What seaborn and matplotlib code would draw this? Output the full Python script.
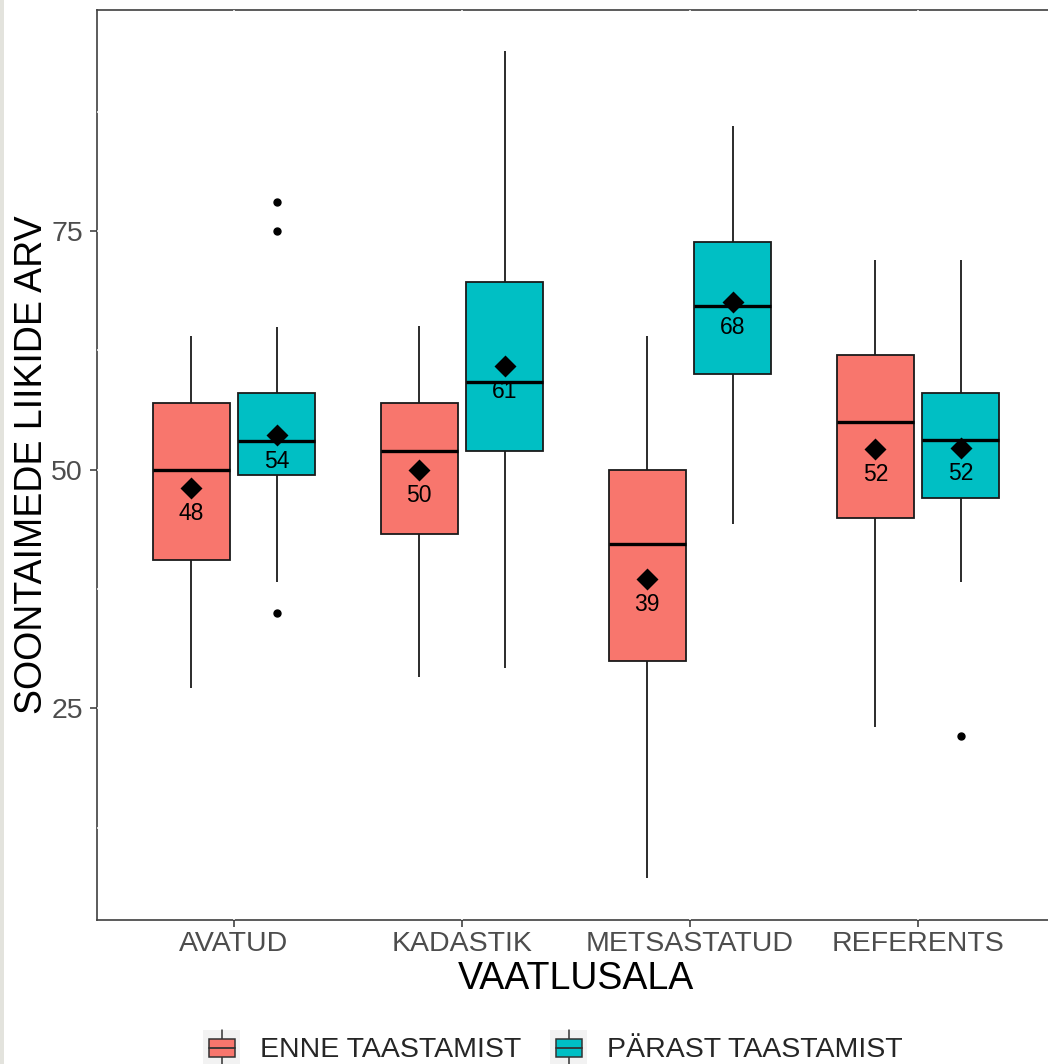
import pandas as pd
import matplotlib
matplotlib.use("Agg")
import matplotlib.pyplot as plt
from matplotlib.patches import Rectangle, Patch
from matplotlib.lines import Line2D
from matplotlib.legend_handler import HandlerBase
import seaborn as sns

# values
areas = ["AVATUD", "KADASTIK", "METSASTATUD", "REFERENTS"]
groups = ["ENNE TAASTAMIST", "PÄRAST TAASTAMIST"]
colors = ["#F8766D", "#00BFC4"]

enne_lo = [27.1, 28.3, 7.2, 23.1]
enne_q1 = [40.6, 43.3, 30.0, 45.0]
enne_med = [50.0, 52.0, 42.2, 55.0]
enne_q3 = [57.0, 57.0, 50.0, 62.0]
enne_hi = [64.0, 65.1, 64.0, 72.0]
enne_out = [[], [], [], []]
enne_mean = [48.1, 50.0, 38.6, 52.2]

parast_lo = [38.2, 29.2, 44.3, 38.2]
parast_q1 = [49.5, 52.0, 60.0, 47.0]
parast_med = [53.0, 59.2, 67.2, 53.1]
parast_q3 = [58.0, 69.7, 73.9, 58.0]
parast_hi = [65.0, 93.9, 86.0, 72.0]
parast_out = [[35.0, 75.0, 78.0], [], [], [22.1]]
parast_mean = [53.6, 60.9, 67.6, 52.3]


# rebuild a sample whose boxplot stats match the numbers
def rebuild(lo, q1, med, q3, hi, out, k=50):
    low = [v for v in out if v < lo]
    high = [v for v in out if v > hi]
    return low + [lo] + [q1] * k + [med] * k + [q3] * k + [hi] + high


rows = []
for i, area in enumerate(areas):
    for v in rebuild(enne_lo[i], enne_q1[i], enne_med[i], enne_q3[i], enne_hi[i], enne_out[i]):
        rows.append((area, groups[0], v))
    for v in rebuild(parast_lo[i], parast_q1[i], parast_med[i], parast_q3[i], parast_hi[i], parast_out[i]):
        rows.append((area, groups[1], v))
df = pd.DataFrame(rows, columns=["VAATLUSALA", "grupp", "arv"])

means = pd.DataFrame({
    "VAATLUSALA": areas * 2,
    "grupp": [groups[0]] * len(areas) + [groups[1]] * len(areas),
    "arv": enne_mean + parast_mean,
})


class BoxKey(HandlerBase):
    # ggplot-like legend key: grey square, whisker, box and median
    def create_artists(self, legend, orig_handle, xdescent, ydescent,
                       width, height, fontsize, trans):
        x0, y0 = -xdescent, -ydescent
        fc = orig_handle.get_facecolor()
        bg = Rectangle((x0, y0), width, height, facecolor="#F2F2F2",
                       edgecolor="none", transform=trans)
        stem = Line2D([x0 + width / 2] * 2, [y0, y0 + height],
                      color="#333333", lw=1.1, transform=trans)
        box = Rectangle((x0 + 0.15 * width, y0 + 0.25 * height), 0.7 * width, 0.5 * height,
                        facecolor=fc, edgecolor="#333333", lw=1.1, transform=trans)
        mid = Line2D([x0 + 0.15 * width, x0 + 0.85 * width], [y0 + height / 2] * 2,
                     color="#333333", lw=1.3, transform=trans)
        return [bg, stem, box, mid]


sns.set_theme(style="white")
plt.rcParams["font.family"] = ["Liberation Sans", "DejaVu Sans"]

fig = plt.figure(figsize=(10.48, 10.64), dpi=100)
ax = fig.add_axes([97 / 1048, 144 / 1064, 958 / 1048, 910 / 1064])

sns.boxplot(data=df, x="VAATLUSALA", y="arv", hue="grupp", order=areas, hue_order=groups,
            palette=colors, saturation=1, width=0.75, gap=0.1, linewidth=1.3,
            linecolor="#1A1A1A", showcaps=False, fliersize=5,
            flierprops=dict(marker="o", markerfacecolor="black", markeredgecolor="black"),
            medianprops=dict(color="black", linewidth=2.4),
            legend=False, ax=ax)

n0 = len(ax.lines)
sns.pointplot(data=means, x="VAATLUSALA", y="arv", hue="grupp", order=areas, hue_order=groups,
              palette=["black", "black"], dodge=0.375, linestyle="none", markers="D",
              markersize=9.5, errorbar=None, legend=False, ax=ax)
for line in ax.lines[n0:]:
    line.set_zorder(5)
    for x, y in line.get_xydata():
        ax.annotate(f"{y:.0f}", (x, y), xytext=(0, -18.5), textcoords="offset points",
                    ha="center", va="center", fontsize=16.5, color="black", zorder=6)

ax.set_xlim(-0.6, 3.6)
ax.set_ylim(2.85, 98.15)
ax.set_yticks([25, 50, 75])
ax.set_yticks([12.5, 37.5, 62.5, 87.5], minor=True)

# white grid drawn over the panel border, like the reference
ax.set_axisbelow(True)
ax.grid(True, which="both", color="white", linewidth=1.1)
for side in ["left", "top", "bottom", "right"]:
    ax.spines[side].set_color("#404040")
    ax.spines[side].set_linewidth(1.2)
    ax.spines[side].set_zorder(0.2)

ax.tick_params(axis="both", which="major", labelsize=20.5, labelcolor="#4D4D4D",
               color="#333333", length=5, width=1.1, left=True, bottom=True)
ax.tick_params(axis="x", pad=3)
ax.tick_params(axis="y", pad=5)
ax.tick_params(which="minor", length=0)

ax.set_xlabel("VAATLUSALA", fontsize=27, labelpad=3, color="black")
ax.set_ylabel("SOONTAIMEDE LIIKIDE ARV", fontsize=27, labelpad=1, color="black")

handles = [Patch(facecolor=c) for c in colors]
fig.legend(handles, groups, loc="center", bbox_to_anchor=(553 / 1048, 1 - 1048 / 1064),
           ncol=2, frameon=False, fontsize=20.5, handlelength=1.3, handleheight=1.6,
           handletextpad=0.7, columnspacing=1.0, handler_map={Patch: BoxKey()})

# thin grey strip at the left edge of the screenshot
fig.patches.append(Rectangle((0, 0), 4 / 1048, 1, transform=fig.transFigure,
                             facecolor="#E3E3DD", edgecolor="none"))

fig.savefig("out.png", dpi=100)
